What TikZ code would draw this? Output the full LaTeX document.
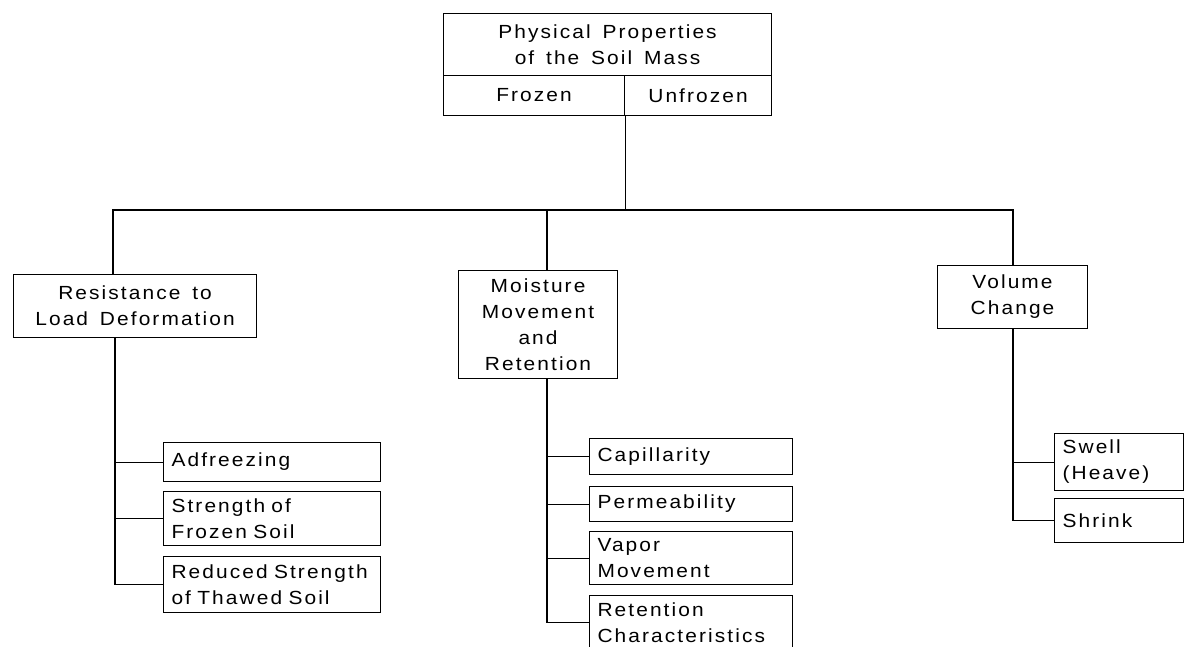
\documentclass[tikz,border=0pt]{standalone}
\usepackage{fontspec}
\setmainfont{Liberation Sans}[FakeStretch=1.1, LetterSpace=11, WordSpace=1.5]
\begin{document}
\begin{tikzpicture}[x=1pt,y=-1pt,
  every node/.style={font=\fontsize{19}{26}\selectfont},
  box/.style={draw, line width=1.1pt, anchor=north west, inner sep=0pt, align=center},
  leaf/.style={draw, line width=1.1pt, anchor=north west, inner ysep=0pt, inner xsep=8pt, align=left},
  link/.style={line width=1.1pt}]
\useasboundingbox (0,0) rectangle (1185,646);
\clip (0,0) rectangle (1185,646);
\fill[white] (0,0) rectangle (1185,646);

% top heading box with its two halves
\node[box, minimum width=328pt, minimum height=62pt] (title) at (443,13) {Physical Properties\\of the Soil Mass};
\node[box, minimum width=181pt, minimum height=40pt] (frozen) at (443,75) {Frozen};
\node[box, minimum width=147pt, minimum height=40pt] (unfrozen) at (624,75) {Unfrozen};

% the three main groups
\node[box, minimum width=243pt, minimum height=63pt] (res) at (13,274) {Resistance to\\Load Deformation};
\node[box, minimum width=159pt, minimum height=108pt] (moist) at (458,270) {Moisture\\Movement\\and\\Retention};
\node[box, minimum width=150pt, minimum height=63pt] (vol) at (937,265) {Volume\\Change};

% load deformation items
\node[leaf, text width=201pt, minimum height=39pt] (adf) at (163,442) {Adfreezing};
\node[leaf, text width=201pt, minimum height=54pt] (str) at (163,491) {Strength of\\Frozen Soil};
\node[leaf, text width=201pt, minimum height=56pt] (red) at (163,556) {Reduced Strength\\of Thawed Soil};

% moisture items
\node[leaf, text width=187pt, minimum height=36pt] (cap) at (589,438) {Capillarity};
\node[leaf, text width=187pt, minimum height=35pt] (perm) at (589,486) {Permeability};
\node[leaf, text width=187pt, minimum height=53pt] (vap) at (589,531) {Vapor\\Movement};
\node[leaf, text width=187pt, minimum height=54pt] (ret) at (589,595) {Retention\\Characteristics};

% volume change items
\node[leaf, text width=113pt, minimum height=57pt] (swell) at (1054,433) {Swell\\(Heave)};
\node[leaf, text width=113pt, minimum height=44pt] (shrink) at (1054,498) {Shrink};

% distribution bus
\coordinate (bL) at (113,210);
\coordinate (bM) at (547,210);
\coordinate (bR) at (1013,210);
\draw[link] (frozen.south east) -- (frozen.south east |- bM);
\draw[link] (bL |- res.north) -- (bL) -- (bR) -- (bR |- vol.north);
\draw[link] (bM) -- (bM |- moist.north);

% left column stem
\coordinate (sL) at (115,0);
\draw[link] (sL |- res.south) -- (sL |- red.west) -- (red.west);
\draw[link] (sL |- adf.west) -- (adf.west);
\draw[link] (sL |- str.west) -- (str.west);

% middle column stem
\coordinate (sM) at (547,0);
\draw[link] (sM |- moist.south) -- (sM |- ret.west) -- (ret.west);
\draw[link] (sM |- cap.west) -- (cap.west);
\draw[link] (sM |- perm.west) -- (perm.west);
\draw[link] (sM |- vap.west) -- (vap.west);

% right column stem
\coordinate (sR) at (1013,0);
\draw[link] (sR |- vol.south) -- (sR |- shrink.west) -- (shrink.west);
\draw[link] (sR |- swell.west) -- (swell.west);
\end{tikzpicture}
\end{document}
